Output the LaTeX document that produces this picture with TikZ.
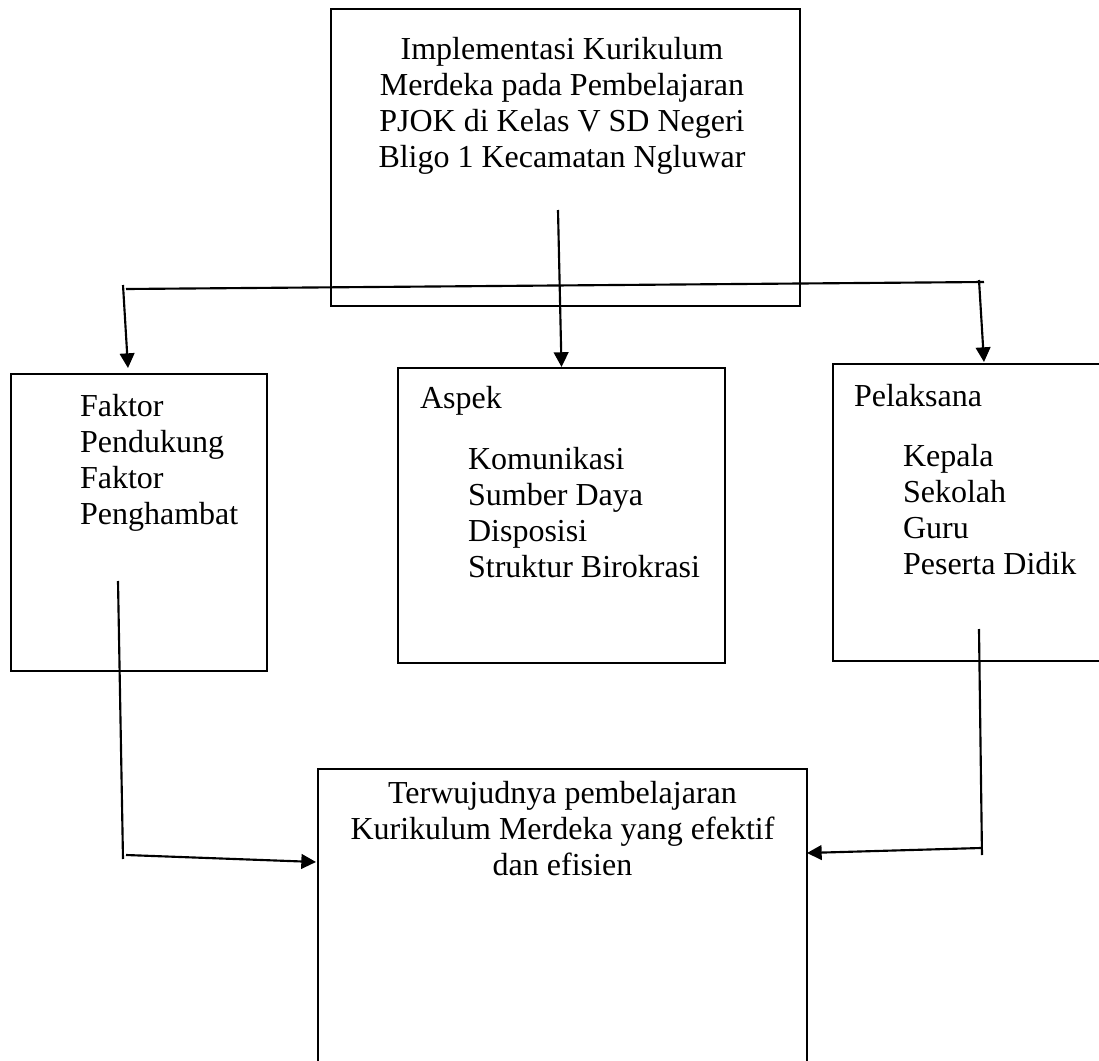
\documentclass[tikz,border=0pt]{standalone}
\usepackage{fontspec}
\setmainfont{Liberation Serif}
\usetikzlibrary{arrows.meta,fit}

\begin{document}
\begin{tikzpicture}[x=0.375pt,y=-0.375pt,>={Triangle[length=5.5pt,width=5.5pt]},thick,
  kotak/.style={draw,rectangle,inner sep=0pt},
  teks/.style={inner sep=0pt,font=\fontsize{12}{13.5}\selectfont}]
\useasboundingbox (0,0) rectangle (1099,1061);
\clip (0,0) rectangle (1099,1061);

% kotak
\node[kotak,fit={(331,9)(800,306)}] (judul) {};
\node[kotak,fit={(11,374)(267,671)}] (faktor) {};
\node[kotak,fit={(398,368)(725,663)}] (aspek) {};
\node[kotak,fit={(833,364)(1120,661)}] (pelaksana) {};
\node[kotak,fit={(318,769)(807,1080)}] (hasil) {};

% teks
\node[teks,align=center,anchor=north] (judulTeks) at (562,36) {Implementasi Kurikulum\\Merdeka pada Pembelajaran\\PJOK di Kelas V SD Negeri\\Bligo 1 Kecamatan Ngluwar};
\node[teks,align=left,anchor=north west] (faktorTeks) at (79,393) {Faktor\\Pendukung\\Faktor\\Penghambat};
\node[teks,anchor=north west] (aspekJudul) at (419,385) {Aspek};
\node[teks,align=left,anchor=north west] (aspekIsi) at (467,446) {Komunikasi\\Sumber Daya\\Disposisi\\Struktur Birokrasi};
\node[teks,anchor=north west] (pelaksanaJudul) at (853,383) {Pelaksana};
\node[teks,align=left,anchor=north west] (pelaksanaIsi) at (902,443) {Kepala\\Sekolah\\Guru\\Peserta Didik};
\node[teks,align=center,anchor=north] (hasilTeks) at (562.5,780) {Terwujudnya pembelajaran\\Kurikulum Merdeka yang efektif\\dan efisien};

% titik garis
\coordinate (garisAwal) at (126,289);
\coordinate (garisAkhir) at (984,282);
\coordinate (kiriAtas) at (123,285);
\coordinate (kiriTiba) at (128,368);
\coordinate (tengahAtas) at (558,210);
\coordinate (kananAtas) at (979,280);
\coordinate (kananTiba) at (984,362);
\coordinate (kiriBawahA) at (118,581);
\coordinate (kiriBawahB) at (123,859);
\coordinate (kiriBelok) at (126,855);
\coordinate (kiriMasuk) at (316,862);
\coordinate (kananBawahA) at (979,629);
\coordinate (kananBawahB) at (982,855);
\coordinate (kananBelok) at (981,848);
\coordinate (kananMasuk) at (807,853);

% garis
\draw (garisAwal) -- (garisAkhir);
\draw[->] (kiriAtas) -- (kiriTiba);
\draw[->] (tengahAtas) -- (aspek.north);
\draw[->] (kananAtas) -- (kananTiba);
\draw (kiriBawahA) -- (kiriBawahB);
\draw[->] (kiriBelok) -- (kiriMasuk);
\draw (kananBawahA) -- (kananBawahB);
\draw[->] (kananBelok) -- (kananMasuk);
\end{tikzpicture}
\end{document}
